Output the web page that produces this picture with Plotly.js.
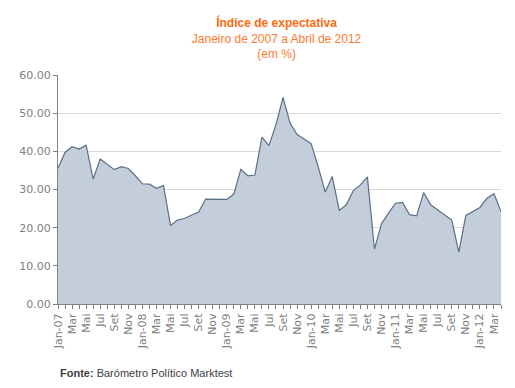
<!DOCTYPE html>
<html>
<head>
<meta charset="utf-8">
<script src="https://cdn.plot.ly/plotly-3.0.1.min.js"></script>
<style>html,body{margin:0;padding:0;background:#fff;}#chart{width:515px;height:388px;}</style>
</head>
<body>
<div id="chart"></div>
<script>
// Months Jan-2007 .. Apr-2012 (unique category keys)
var months = [
"2007-01","2007-02","2007-03","2007-04","2007-05","2007-06","2007-07","2007-08","2007-09","2007-10","2007-11","2007-12",
"2008-01","2008-02","2008-03","2008-04","2008-05","2008-06","2008-07","2008-08","2008-09","2008-10","2008-11","2008-12",
"2009-01","2009-02","2009-03","2009-04","2009-05","2009-06","2009-07","2009-08","2009-09","2009-10","2009-11","2009-12",
"2010-01","2010-02","2010-03","2010-04","2010-05","2010-06","2010-07","2010-08","2010-09","2010-10","2010-11","2010-12",
"2011-01","2011-02","2011-03","2011-04","2011-05","2011-06","2011-07","2011-08","2011-09","2011-10","2011-11","2011-12",
"2012-01","2012-02","2012-03","2012-04"
];
// Tick labels shown under each month (blank = tick only)
var tickLabels = [
"Jan-07","","Mar","","Mai","","Jul","","Set","","Nov","",
"Jan-08","","Mar","","Mai","","Jul","","Set","","Nov","",
"Jan-09","","Mar","","Mai","","Jul","","Set","","Nov","",
"Jan-10","","Mar","","Mai","","Jul","","Set","","Nov","",
"Jan-11","","Mar","","Mai","","Jul","","Set","","Nov","",
"Jan-12","","Mar",""
];
var indice = [
35.6,39.7,41.2,40.6,41.6,32.7,38.0,36.6,35.2,36.0,35.5,33.6,
31.5,31.4,30.3,31.0,20.6,22.0,22.4,23.3,24.1,27.5,27.5,27.4,
27.4,28.8,35.3,33.6,33.8,43.7,41.5,47.0,54.1,47.4,44.4,43.2,
42.0,36.0,29.3,33.4,24.5,26.0,29.7,31.2,33.3,14.4,21.0,23.8,
26.4,26.6,23.4,23.1,29.2,26.0,24.7,23.4,22.0,13.6,23.2,24.2,
25.3,27.7,28.9,24.2
];
var titleMain = "Índice de expectativa";
var titleSub1 = "Janeiro de 2007 a Abril de 2012";
var titleSub2 = "(em %)";

var trace = {
  x: months, y: indice, type: "scatter", mode: "lines",
  fill: "tozeroy", fillcolor: "#C4CEDA",
  line: {color: "#5B6F88", width: 1.2},
  hoverinfo: "skip"
};

var layout = {
  width: 515, height: 388,
  margin: {l: 58, r: 14, t: 75, b: 84},
  paper_bgcolor: "#ffffff", plot_bgcolor: "#ffffff",
  showlegend: false,
  font: {family: "Liberation Sans, Arial, sans-serif", color: "#808080", size: 11},
  title: {
    text: "<b>" + titleMain + "</b><br><span style='color:#FF7A2E'>" + titleSub1 + "<br>" + titleSub2 + "</span>",
    font: {family: "Liberation Sans, Arial, sans-serif", size: 12, color: "#FF6A10"},
    x: 0.537, xanchor: "center", xref: "container",
    y: 1 - 27/388, yanchor: "top", yref: "container",
    pad: {t: 0}
  },
  xaxis: {
    type: "category",
    range: [0, months.length - 1],
    tickmode: "array", tickvals: months, ticktext: tickLabels,
    tickangle: -90,
    ticks: "outside", ticklen: 4, tickcolor: "#808080", tickwidth: 1,
    showline: true, linecolor: "#808080", linewidth: 1,
    showgrid: false, zeroline: false,
    tickfont: {family: "DejaVu Sans, sans-serif", size: 11, color: "#808080"}
  },
  yaxis: {
    range: [0, 60], dtick: 10, tick0: 0, tickformat: ".2f",
    ticks: "outside", ticklen: 4, tickcolor: "#808080",
    showline: true, linecolor: "#808080", linewidth: 1,
    showgrid: true, gridcolor: "#D9D9D9", gridwidth: 1,
    zeroline: false,
    tickfont: {family: "DejaVu Sans, sans-serif", size: 11, color: "#808080"}
  },
  annotations: [{
    text: "<b>Fonte:</b> Barómetro Político Marktest",
    xref: "paper", x: 0, xanchor: "left",
    yref: "paper", y: (304 - 373) / 229, yanchor: "middle",
    showarrow: false,
    font: {family: "Liberation Sans, Arial, sans-serif", size: 11, color: "#404040"}
  }]
};

Plotly.newPlot("chart", [trace], layout, {displayModeBar: false, staticPlot: true});
</script>
</body>
</html>
